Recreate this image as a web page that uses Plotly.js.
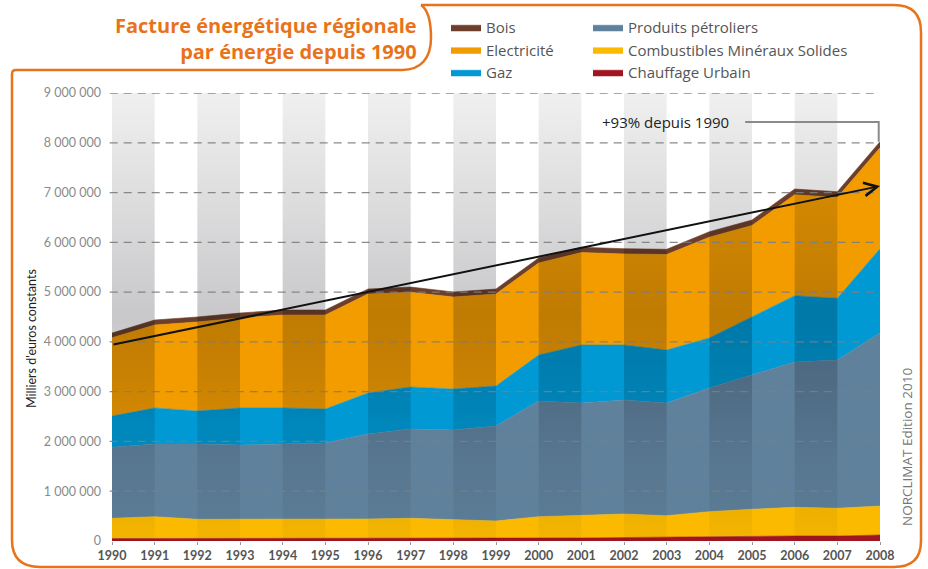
<!DOCTYPE html>
<html>
<head>
<meta charset="utf-8">
<script src="https://cdn.plot.ly/plotly-3.0.1.min.js"></script>
<style>html,body{margin:0;padding:0;background:#fff;}#chart{width:928px;height:569px;}</style>
</head>
<body>
<div id="chart"></div>
<script>
// ---- Data (milliers d'euros constants) ----
const years = [1990,1991,1992,1993,1994,1995,1996,1997,1998,1999,2000,2001,2002,2003,2004,2005,2006,2007,2008];
const chauffageUrbain = [50000,50000,50000,50000,50000,50000,50000,50000,50000,50000,60000,60000,70000,80000,80000,90000,100000,100000,120000];
const combustiblesMS = [405000,438000,386000,386000,386000,386000,392000,406000,386000,352000,428000,462000,472000,428000,509000,547000,577000,557000,583000];
const produitsPetroliers = [1426000,1461000,1513000,1492000,1513000,1533000,1707000,1794000,1794000,1908000,2324000,2250000,2290000,2264000,2484000,2698000,2919000,2979000,3475000];
const gaz = [629000,723000,662000,744000,723000,683000,824000,844000,823000,804000,924000,1165000,1105000,1065000,1005000,1171000,1332000,1239000,1694000];
const electricite = [1572000,1668000,1789000,1808000,1868000,1888000,1989000,1903000,1849000,1848000,1849000,1858000,1830000,1918000,2025000,1832000,2028000,2027000,2029000];
const bois = [95000,100000,100000,100000,100000,100000,100000,105000,100000,100000,100000,105000,105000,105000,110000,110000,115000,115000,120000];

const yTickVals = [0,1000000,2000000,3000000,4000000,5000000,6000000,7000000,8000000,9000000];
const yTickText = ['0','1 000 000','2 000 000','3 000 000','4 000 000','5 000 000','6 000 000','7 000 000','8 000 000','9 000 000'];

const trendYears = [1990, 2008];
const trendValues = [3940000, 7130000];
const noteText = '+93% depuis 1990';
const noteYear = 2002.98;
const noteValue = 8417000;
const noteLineStartYear = 2004.84;

const titleText = 'Facture énergétique régionale<br>par énergie depuis 1990';

// ---- Layout geometry helpers (pixels -> paper) ----
const W = 928, H = 569;
const M = {l:112, r:48, t:93, b:28, autoexpand:false};
const PW = W - M.l - M.r, PH = H - M.t - M.b;
const px = x => (x - M.l) / PW;
const py = y => (H - M.b - y) / PH;

const FONT = 'Lato, "Open Sans", sans-serif';
const FONT2 = '"Open Sans", Lato, sans-serif';

// ---- Traces ----
const series = [
  {name:'Chauffage Urbain', y:chauffageUrbain, color:'#a0151f', legend:'legend2', rank:3},
  {name:'Combustibles Minéraux Solides', y:combustiblesMS, color:'#fbba00', legend:'legend2', rank:2},
  {name:'Produits pétroliers', y:produitsPetroliers, color:'#5f819c', legend:'legend2', rank:1},
  {name:'Gaz', y:gaz, color:'#0099d3', legend:'legend', rank:3},
  {name:'Electricité', y:electricite, color:'#f39c00', legend:'legend', rank:2},
  {name:'Bois', y:bois, color:'#6b3f2b', legend:'legend', rank:1}
];

const traces = series.map(s => ({
  type:'scatter', mode:'lines', x:years, y:s.y, name:s.name,
  stackgroup:'one', fillcolor:s.color,
  line:{color:s.color, width:0.6},
  legend:s.legend, legendrank:s.rank, hoverinfo:'skip'
}));

// alternating shaded columns
const yMax = yTickVals[yTickVals.length-1];
for (let i = 0; i < years.length - 1; i += 2) {
  const a = years[i], b = years[i+1];
  traces.push({
    type:'scatter', mode:'none', x:[a,a,b,b], y:[0,yMax,yMax,0], fill:'toself',
    fillgradient:{type:'vertical', start:0, stop:yMax,
      colorscale:[[0,'rgba(0,0,12,0.03)'],[0.17,'rgba(0,0,12,0.08)'],[0.36,'rgba(0,0,12,0.17)'],[0.5,'rgba(0,0,12,0.215)'],[1,'rgba(0,0,12,0.06)']]},
    showlegend:false, hoverinfo:'skip'
  });
}

// ---- Shapes ----
const shapes = [];
yTickVals.slice(1).forEach(v => shapes.push({
  type:'line', xref:'paper', yref:'y', x0:-0.003, x1:0.994, y0:v, y1:v, layer:'above',
  line:{color:'rgba(125,125,125,0.9)', width:1.3, dash:'8px,6px'}
}));
const total2008 = series.reduce((acc, s) => acc + s.y[s.y.length-1], 0);
shapes.push({
  type:'path', xref:'x', yref:'y', layer:'above',
  path:`M ${noteLineStartYear},${noteValue} L 2007.97,${noteValue} L 2007.97,${total2008}`,
  line:{color:'#8a8a8a', width:2}
});
// orange frame
const framePts = [
  ['M',421,5],['L',894,5],['Q',921,5,921,32],['L',921,541],['Q',921,567,894,567],
  ['L',40,567],['Q',12,567,12,540],['L',12,74],['Q',12,70,16,70],['L',402,70],
  ['C',421,70,431,58,431,38],['C',431,20,427,9,421,5]
];
const framePath = framePts.map(seg => {
  const out = [seg[0]];
  for (let k = 1; k < seg.length; k += 2) out.push(px(seg[k]).toFixed(5) + ',' + py(seg[k+1]).toFixed(5));
  return out.join(' ');
}).join(' ');
shapes.push({type:'path', xref:'paper', yref:'paper', path:framePath, line:{color:'#e8731a', width:2.5}, layer:'above'});

// ---- Annotations ----
const annotations = [
  {xref:'x', yref:'y', x:trendYears[1], y:trendValues[1], ax:trendYears[0], ay:trendValues[0],
   axref:'x', ayref:'y', text:'', showarrow:true, arrowhead:5, arrowsize:1.3, arrowwidth:2, arrowcolor:'#111', standoff:0},
  {xref:'x', yref:'y', x:noteYear, y:noteValue, text:noteText, showarrow:false, xanchor:'center', yanchor:'middle',
   font:{family:FONT2, size:15, color:'#222'}},
  {xref:'paper', yref:'paper', x:px(31), y:py(339), text:"Milliers d'euros constants", textangle:-90, showarrow:false,
   xanchor:'center', yanchor:'middle', font:{family:FONT, size:12.5, color:'#222'}},
  {xref:'paper', yref:'paper', x:px(907), y:py(447), text:'NORCLIMAT Edition 2010', textangle:-90, showarrow:false,
   xanchor:'center', yanchor:'middle', font:{family:FONT2, size:13.5, color:'#777'}},
  {xref:'paper', yref:'paper', x:px(419), y:py(38.5), text:'<b>' + titleText + '</b>', showarrow:false,
   xanchor:'right', yanchor:'middle', align:'right', font:{family:FONT2, size:20, color:'#e8731a'}}
];

const layout = {
  width:W, height:H, margin:M,
  paper_bgcolor:'#ffffff', plot_bgcolor:'#ffffff',
  xaxis:{range:[1990,2008], tickvals:years, ticktext:years.map(String), showgrid:false, zeroline:false, showline:false,
    ticks:'outside', ticklen:3, tickcolor:'#999', tickwidth:1, automargin:false,
    tickfont:{family:FONT, size:12.5, color:'#555', weight:'bold'}},
  yaxis:{range:[0,yMax], tickvals:yTickVals, ticktext:yTickText, showgrid:false, zeroline:false, showline:false,
    ticks:'', ticklabelstandoff:10, automargin:false, tickfont:{family:FONT, size:12.5, color:'#8a8a8a'}},
  legend:{xref:'container', yref:'container', x:446/W, y:1-11/H, xanchor:'left', yanchor:'top',
    bgcolor:'rgba(0,0,0,0)', font:{family:FONT2, size:15, color:'#555'}, traceorder:'normal', itemclick:false},
  legend2:{xref:'container', yref:'container', x:588/W, y:1-11/H, xanchor:'left', yanchor:'top',
    bgcolor:'rgba(0,0,0,0)', font:{family:FONT2, size:15, color:'#555'}, traceorder:'normal', itemclick:false},
  shapes:shapes,
  annotations:annotations,
  showlegend:true,
  hovermode:false
};

Plotly.newPlot('chart', traces, layout, {displayModeBar:false, staticPlot:true});
</script>
</body>
</html>
